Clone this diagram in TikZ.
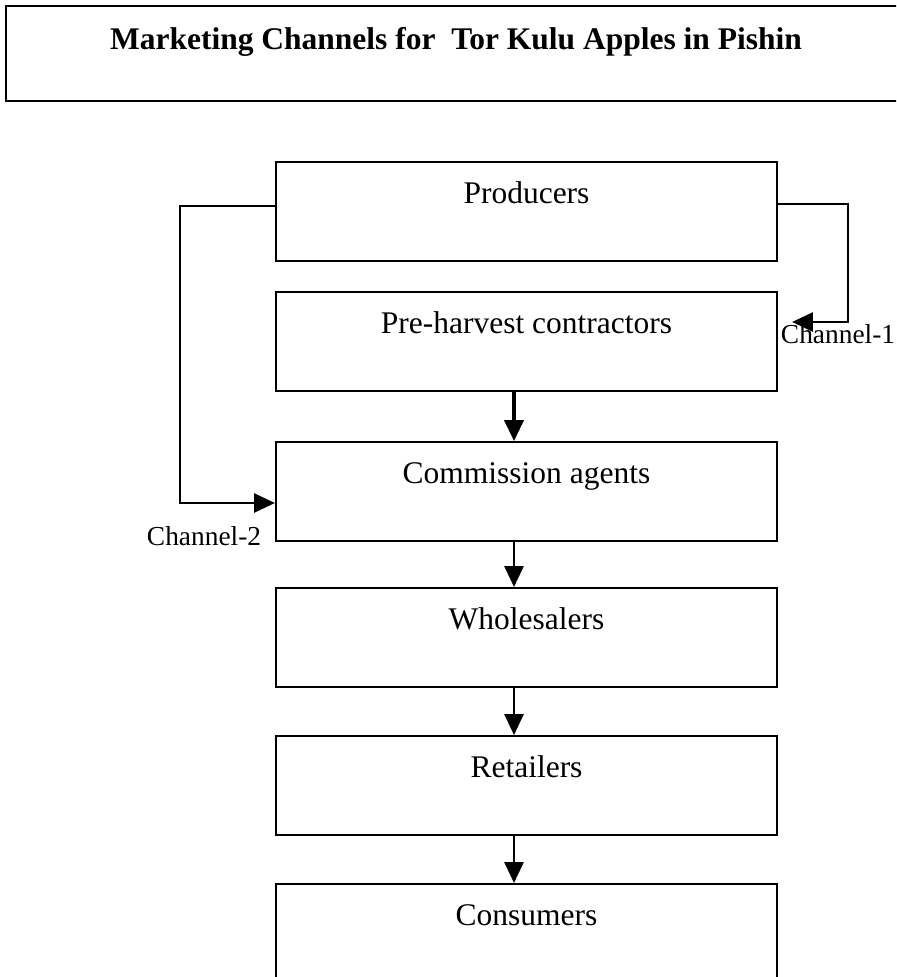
\documentclass[tikz,border=0pt]{standalone}
\usepackage{fontspec}
\setmainfont{Liberation Serif}
\usetikzlibrary{positioning,arrows.meta}
\definecolor{ink}{HTML}{000000}

\begin{document}
\begin{tikzpicture}[
  every node/.style={font=\fontsize{22.4}{26}\selectfont, color=ink},
  stage/.style={
    rectangle, draw=ink, line width=1.6pt,
    fill=white, inner sep=0pt,
    minimum width=12.525cm,
    text height=1.025cm, text depth=1.45cm
  },
  flow/.style={draw=ink, line width=1.3pt, -{Triangle[length=5.2mm,width=4.8mm]}},
  chanlabel/.style={font=\fontsize{19.5}{22}\selectfont, anchor=base west}
]

% Page
\useasboundingbox (0,0) rectangle (22.4,-24.425);
\clip (0,0) rectangle (22.4,-24.425);

% Title
\node[rectangle, draw=ink, line width=1.6pt, inner sep=0pt,
      minimum width=22.5cm, text height=1.1cm, text depth=1.275cm,
      font=\fontsize{22.4}{26}\selectfont\bfseries] (title) at (11.4,-1.3375)
      {Marketing Channels for\ \ Tor Kulu Apples in Pishin};

% Stages
\node[stage] (prod)  at (13.1625,-5.29)  {Producers};
\node[stage] (pre)   at (13.1625,-8.54)  {Pre-harvest contractors};
\node[stage] (com)   at (13.1625,-12.29) {Commission agents};
\node[stage] (whole) at (13.1625,-15.94) {Wholesalers};
\node[stage] (ret)   at (13.1625,-19.64) {Retailers};
\node[stage] (cons)  at (13.1625,-23.34) {Consumers};

% Arrows down the chain
\coordinate (spine) at (12.85,0);
\foreach \a/\b/\w in {pre/com/2.2, com/whole/1.3, whole/ret/1.3, ret/cons/1.3} {
  \draw[flow, line width=\w pt] (\a.south -| spine) -- (\b.north -| spine);
}

% Channel-1: producers straight to pre-harvest contractors
\coordinate (k1) at (21.2,-8.05);
\draw[flow] ([yshift=0.18cm]prod.east) -| (k1) -- ([xshift=0.35cm]pre.east |- k1);
\node[chanlabel] (ch1) at (19.4,-8.575) {Channel-1};

% Channel-2: producers straight to commission agents
\coordinate (k2) at (4.5,-12.575);
\draw[flow] ([yshift=0.13cm]prod.west) -| (k2) -- (com.west |- k2);
\node[chanlabel] (ch2) at (3.55,-13.625) {Channel-2};

\end{tikzpicture}
\end{document}
